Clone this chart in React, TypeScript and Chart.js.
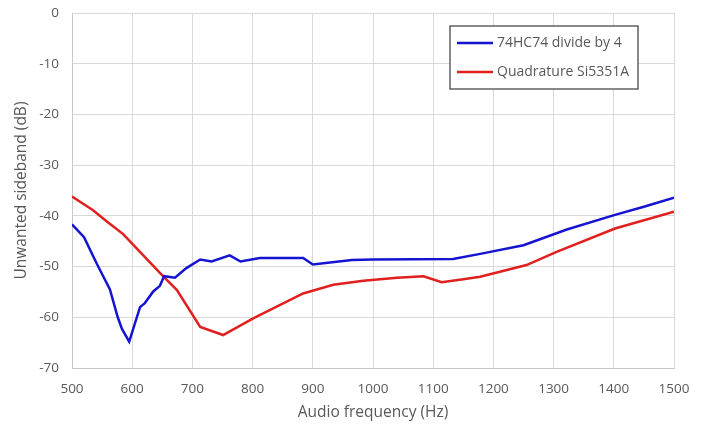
import React, { useEffect, useRef } from "react";
import { Chart, registerables } from "chart.js";

Chart.register(...registerables);

const blueLabel = "74HC74 divide by 4";
const redLabel = "Quadrature Si5351A";

const blueFreq = [500, 520, 541, 563, 576, 583, 595, 613, 621, 635, 646, 653, 671, 690, 713, 732, 762, 780, 812, 884, 900, 965, 1000, 1133, 1178, 1250, 1322, 1402, 1450, 1500];
const blueDb = [-41.7, -44.2, -49.4, -54.5, -60.0, -62.3, -64.8, -58.0, -57.2, -54.9, -53.8, -51.9, -52.2, -50.3, -48.6, -49.0, -47.8, -49.0, -48.3, -48.3, -49.6, -48.7, -48.6, -48.5, -47.5, -45.8, -42.7, -39.8, -38.2, -36.4];

const redFreq = [500, 535, 560, 585, 620, 652, 674, 713, 751, 801, 845, 884, 934, 984, 1040, 1084, 1114, 1150, 1178, 1255, 1305, 1402, 1500];
const redDb = [-36.2, -38.9, -41.3, -43.6, -48.0, -52.0, -54.6, -61.9, -63.5, -60.2, -57.6, -55.3, -53.6, -52.8, -52.2, -51.9, -53.1, -52.5, -52.0, -49.7, -47.1, -42.5, -39.2];

const xMin = 500, xMax = 1500, xStep = 100;
const yMin = -70, yMax = 0, yStep = 10;
const xTitle = "Audio frequency (Hz)";
const yTitle = "Unwanted sideband (dB)";

const FONT = "'Open Sans', 'Liberation Sans', sans-serif";
const TEXT = "#595959";

const legendPlugin = {
  id: "boxLegend",
  afterDraw(chart: any) {
    const ctx = chart.ctx;
    const x0 = 450, y0 = 26, w = 188, h = 63;
    ctx.save();
    ctx.fillStyle = "#ffffff";
    ctx.fillRect(x0, y0, w, h);
    ctx.strokeStyle = "#3a3a3a";
    ctx.lineWidth = 1.2;
    ctx.strokeRect(x0, y0, w, h);
    ctx.font = `14px ${FONT}`;
    ctx.textBaseline = "middle";
    chart.data.datasets.forEach((ds: any, i: number) => {
      const y = y0 + 17 + i * 29;
      ctx.strokeStyle = ds.borderColor;
      ctx.lineWidth = 2.5;
      ctx.beginPath();
      ctx.moveTo(x0 + 7, y);
      ctx.lineTo(x0 + 43, y);
      ctx.stroke();
      ctx.fillStyle = TEXT;
      ctx.fillText(ds.label, x0 + 47, y);
    });
    ctx.restore();
  },
};

export default function App() {
  const ref = useRef<HTMLCanvasElement>(null);
  useEffect(() => {
    document.body.style.margin = "0";
    const chart = new Chart(ref.current!, {
      type: "line",
      data: {
        datasets: [
          {
            label: blueLabel,
            data: blueFreq.map((f, i) => ({ x: f, y: blueDb[i] })),
            borderColor: "#1414d2",
            borderWidth: 2.5,
            pointRadius: 0,
            tension: 0,
            fill: false,
          },
          {
            label: redLabel,
            data: redFreq.map((f, i) => ({ x: f, y: redDb[i] })),
            borderColor: "#e0201e",
            borderWidth: 2.5,
            pointRadius: 0,
            tension: 0,
            fill: false,
          },
        ],
      },
      options: {
        animation: false,
        responsive: false,
        layout: { padding: { left: 12, top: 13, right: 29, bottom: 0 } },
        plugins: { legend: { display: false }, tooltip: { enabled: false } },
        scales: {
          x: {
            type: "linear",
            min: xMin,
            max: xMax,
            afterFit: (s: any) => { s.height = 58; s.paddingLeft = 0; s.paddingRight = 0; },
            ticks: {
              stepSize: xStep,
              color: TEXT,
              font: { family: FONT, size: 13.5 },
              padding: 13,
              callback: (v: any) => String(v),
            },
            grid: { color: "#d9d9d9", drawTicks: false, lineWidth: 1 },
            border: { color: "#c8c8c8" },
            title: { display: true, text: xTitle, color: TEXT, font: { family: FONT, size: 15.5 }, padding: { top: 4, bottom: 4 } },
          },
          y: {
            min: yMin,
            max: yMax,
            afterFit: (s: any) => { s.width = 60; s.paddingTop = 0; s.paddingBottom = 0; },
            ticks: {
              stepSize: yStep,
              color: TEXT,
              font: { family: FONT, size: 13.5 },
              padding: 13,
              callback: (v: any) => String(v),
            },
            grid: { color: "#d9d9d9", drawTicks: false, lineWidth: 1 },
            border: { color: "#c8c8c8" },
            title: { display: true, text: yTitle, color: TEXT, font: { family: FONT, size: 15.5 }, padding: 0 },
          },
        },
      },
      plugins: [legendPlugin],
    });
    return () => chart.destroy();
  }, []);
  return (
    <div style={{ width: 703, height: 426, background: "#fff" }}>
      <canvas ref={ref} width={703} height={426} />
    </div>
  );
}
